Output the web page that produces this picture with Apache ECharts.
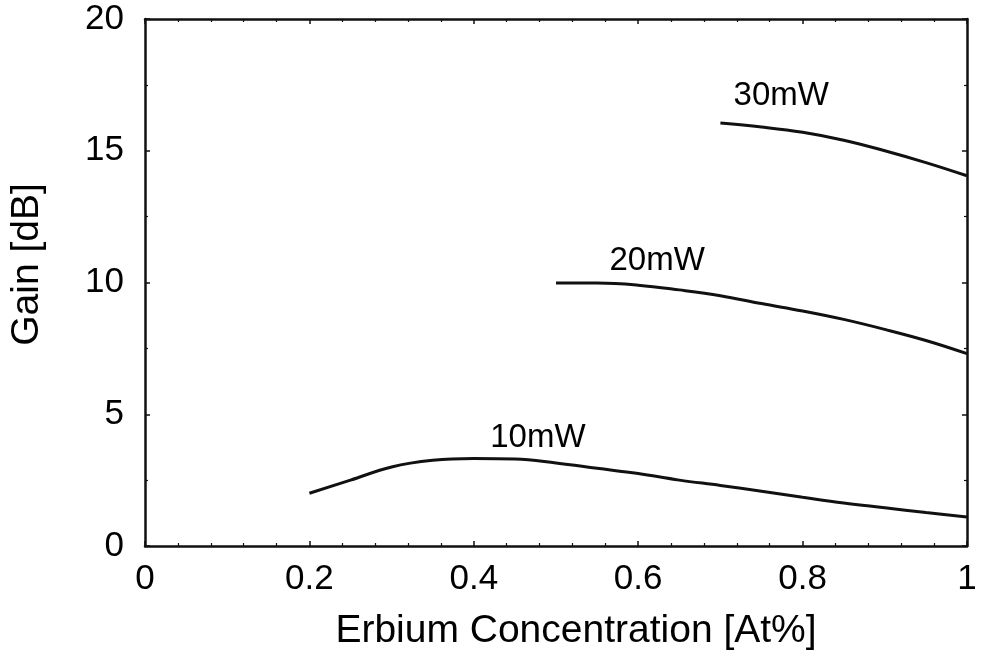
<!DOCTYPE html>
<html>
<head>
<meta charset="utf-8">
<script src="https://cdn.jsdelivr.net/npm/echarts@6/dist/echarts.min.js"></script>
<style>
  html, body { margin: 0; padding: 0; background: #fff; }
  #chart { width: 985px; height: 656px; }
</style>
</head>
<body>
<div id="chart"></div>
<script>
// Erbium concentration (At%) and amplifier gain (dB) for three pump powers
const conc10 = [0.20, 0.25, 0.30, 0.35, 0.40, 0.45, 0.50, 0.55, 0.60, 0.65, 0.70, 0.75, 0.80, 0.85, 0.90, 0.95, 1.00];
const gain10 = [2.00, 2.50, 3.00, 3.25, 3.32, 3.30, 3.15, 2.95, 2.75, 2.50, 2.30, 2.08, 1.85, 1.63, 1.45, 1.27, 1.10];

const conc20 = [0.50, 0.55, 0.60, 0.65, 0.70, 0.75, 0.80, 0.85, 0.90, 0.95, 1.00];
const gain20 = [9.98, 9.98, 9.90, 9.72, 9.50, 9.20, 8.92, 8.60, 8.22, 7.80, 7.30];

const conc30 = [0.70, 0.75, 0.80, 0.85, 0.90, 0.95, 1.00];
const gain30 = [16.05, 15.90, 15.70, 15.40, 15.00, 14.55, 14.05];

// Curve annotations
const curveNames = ['10mW', '20mW', '30mW'];
const nameX = [0.478, 0.623, 0.774];
const nameY = [4.09, 10.83, 17.08];

const xTitle = 'Erbium Concentration [At%]';
const yTitle = 'Gain [dB]';

const FONT = '"Liberation Sans", Arial, sans-serif';
const INK = '#000';

const pairs = (xs, ys) => xs.map((x, i) => [x, ys[i]]);

const curve = (xs, ys) => ({
  type: 'line',
  data: pairs(xs, ys),
  smooth: 0.4,
  showSymbol: false,
  lineStyle: { color: '#111', width: 3 },
  silent: true
});

// Shared frame styling: every side of the plot box carries small inward ticks
const frameAxis = () => ({
  type: 'value',
  axisLine: { show: true, onZero: false, lineStyle: { color: '#111', width: 2.5 } },
  axisTick: { show: true, inside: true, length: 5, lineStyle: { color: '#111', width: 1.5 } },
  minorTick: { show: true, length: 3, lineStyle: { color: '#111', width: 1.2 } },
  splitLine: { show: false }
});

const chart = echarts.init(document.getElementById('chart'), null, { renderer: 'canvas' });

chart.setOption({
  backgroundColor: '#fff',
  animation: false,
  grid: { left: 142, right: 18, top: 19, bottom: 108 },
  xAxis: [
    Object.assign(frameAxis(), {
      min: 0, max: 1, interval: 0.2,
      minorTick: { show: true, splitNumber: 5, length: 3, lineStyle: { color: '#111', width: 1.2 } },
      axisLabel: {
        color: INK, fontFamily: FONT, fontSize: 35, margin: 16,
        formatter: v => (v === 0 || v === 1) ? String(v) : v.toFixed(1)
      },
      name: xTitle,
      nameLocation: 'middle',
      nameGap: 66,
      nameTextStyle: { color: INK, fontFamily: FONT, fontSize: 39, padding: [0, 0, 0, 40] }
    }),
    Object.assign(frameAxis(), {
      min: 0, max: 1, interval: 0.2, position: 'top',
      minorTick: { show: true, splitNumber: 5, length: 3, lineStyle: { color: '#111', width: 1.2 } },
      axisLabel: { show: false }
    })
  ],
  yAxis: [
    Object.assign(frameAxis(), {
      min: 0, max: 20, interval: 5,
      minorTick: { show: true, splitNumber: 2, length: 3, lineStyle: { color: '#111', width: 1.2 } },
      axisLabel: { color: INK, fontFamily: FONT, fontSize: 35, margin: 21 },
      name: yTitle,
      nameLocation: 'middle',
      nameGap: 98,
      nameRotate: 90,
      nameTextStyle: { color: INK, fontFamily: FONT, fontSize: 39, padding: [0, 0, 0, 36] }
    }),
    Object.assign(frameAxis(), {
      min: 0, max: 20, interval: 5, position: 'right',
      minorTick: { show: true, splitNumber: 2, length: 3, lineStyle: { color: '#111', width: 1.2 } },
      axisLabel: { show: false }
    })
  ],
  series: [
    curve(conc10, gain10),
    curve(conc20, gain20),
    curve(conc30, gain30),
    {
      type: 'scatter',
      symbolSize: 0,
      silent: true,
      itemStyle: { opacity: 1 },
      data: curveNames.map((n, i) => ({ value: [nameX[i], nameY[i]], name: n })),
      label: {
        show: true, position: 'inside', formatter: p => p.name,
        color: INK, opacity: 1, fontFamily: FONT, fontSize: 33
      }
    }
  ]
});
</script>
</body>
</html>
